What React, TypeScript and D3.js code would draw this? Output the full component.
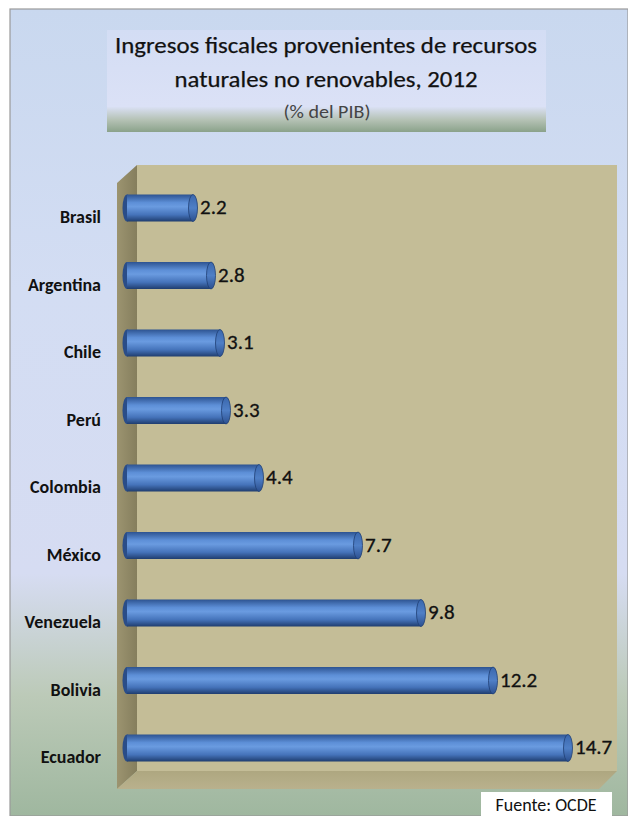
import React from "react";
import * as d3 from "d3";

const countries = ["Brasil", "Argentina", "Chile", "Perú", "Colombia", "México", "Venezuela", "Bolivia", "Ecuador"];
const values = [2.2, 2.8, 3.1, 3.3, 4.4, 7.7, 9.8, 12.2, 14.7];
const titleLines = ["Ingresos fiscales provenientes de recursos", "naturales no renovables, 2012"];
const titleWidths = [422, 303];
const subtitle = "(% del PIB)";
const source = "Fuente: OCDE";

const W = 628;
const H = 816;
const FONT = "Carlito, 'Liberation Sans Narrow', 'DejaVu Sans Condensed', sans-serif";

export default function App() {
  const x = d3.scaleLinear().domain([0, 15]).range([127, 577]);
  const y = d3.scalePoint<string>().domain(countries).range([208, 748]);
  const barH = 27;
  const capRx = 4.5;

  // 3D frame geometry
  const wallFrontX = 117;
  const wallBackX = 137;
  const topBack = 165;
  const topFront = 183;
  const floorBack = 771;
  const floorFront = 789;
  const rightBack = 617;
  const rightFront = 599;

  return (
    <div style={{ position: "absolute", left: 0, top: 0, width: W, height: H }}>
      <svg width={W} height={H} style={{ display: "block" }}>
        <defs>
          <linearGradient id="bg" x1="0" y1="0" x2="0" y2="1">
            <stop offset="0" stopColor="#c9d8ef" />
            <stop offset="0.35" stopColor="#d3ddf3" />
            <stop offset="0.7" stopColor="#d6dcf2" />
            <stop offset="0.85" stopColor="#bccab8" />
            <stop offset="1" stopColor="#9fb79f" />
          </linearGradient>
          <linearGradient id="titleBg" x1="0" y1="0" x2="0" y2="1">
            <stop offset="0" stopColor="#d3ddf4" />
            <stop offset="0.75" stopColor="#dbe1f6" />
            <stop offset="0.88" stopColor="#b5c2b5" />
            <stop offset="1" stopColor="#8aa28a" />
          </linearGradient>
          <linearGradient id="cyl" x1="0" y1="0" x2="0" y2="1">
            <stop offset="0" stopColor="#2d5391" />
            <stop offset="0.3" stopColor="#5d8fd7" />
            <stop offset="0.45" stopColor="#6a9be0" />
            <stop offset="0.75" stopColor="#4573ba" />
            <stop offset="1" stopColor="#1f3d6f" />
          </linearGradient>
          <linearGradient id="cap" x1="0" y1="0" x2="0" y2="1">
            <stop offset="0" stopColor="#3a67ad" />
            <stop offset="0.5" stopColor="#4f7fc6" />
            <stop offset="1" stopColor="#2c5090" />
          </linearGradient>
          <linearGradient id="leftWall" x1="0" y1="0" x2="1" y2="0">
            <stop offset="0" stopColor="#9c9470" />
            <stop offset="1" stopColor="#857e5d" />
          </linearGradient>
          <linearGradient id="floor" x1="0" y1="0" x2="0" y2="1">
            <stop offset="0" stopColor="#aea780" />
            <stop offset="1" stopColor="#b9b18d" />
          </linearGradient>
        </defs>

        {/* panel */}
        <rect x={10} y={9} width={W - 10} height={H - 9} fill="url(#bg)" stroke="#9a9a9a" strokeWidth={1.2} />

        {/* title box */}
        <rect x={107} y={30} width={439} height={102} fill="url(#titleBg)" />
        {titleLines.map((t, i) => (
          <text
            key={t}
            x={326}
            y={53 + i * 34}
            textAnchor="middle"
            fontFamily={FONT}
            fontSize={23}
            fill="#111"
            stroke="#111"
            strokeWidth={0.25}
            textLength={titleWidths[i]}
            lengthAdjust="spacingAndGlyphs"
          >
            {t}
          </text>
        ))}
        <text x={327} y={118} textAnchor="middle" fontFamily={FONT} fontSize={19} fill="#444" textLength={87} lengthAdjust="spacingAndGlyphs">
          {subtitle}
        </text>

        {/* back wall */}
        <rect x={wallBackX} y={topBack} width={rightBack - wallBackX} height={floorBack - topBack} fill="#c4bd97" />
        {/* left wall */}
        <polygon
          points={`${wallFrontX},${topFront} ${wallBackX},${topBack} ${wallBackX},${floorBack} ${wallFrontX},${floorFront}`}
          fill="url(#leftWall)"
        />
        {/* floor */}
        <polygon
          points={`${wallFrontX},${floorFront} ${wallBackX},${floorBack} ${rightBack},${floorBack} ${rightFront},${floorFront}`}
          fill="url(#floor)"
        />

        {/* bars */}
        {countries.map((c, i) => {
          const cy = y(c) as number;
          const x0 = x(0);
          const x1 = x(values[i]);
          return (
            <g key={c}>
              <ellipse cx={x0} cy={cy} rx={capRx} ry={barH / 2} fill="#2a4d88" />
              <rect x={x0} y={cy - barH / 2} width={x1 - x0} height={barH} fill="url(#cyl)" />
              <ellipse cx={x1} cy={cy} rx={capRx} ry={barH / 2} fill="url(#cap)" stroke="#203f73" strokeWidth={0.8} />
              <text x={x1 + 7} y={cy + 6} fontFamily={FONT} fontSize={21} fill="#111" stroke="#111" strokeWidth={0.3}>
                {values[i].toFixed(1)}
              </text>
              <text x={101} y={cy + 15} textAnchor="end" fontFamily={FONT} fontSize={18} fontWeight="bold" fill="#111">
                {c}
              </text>
            </g>
          );
        })}

        {/* source */}
        <rect x={481} y={792} width={131} height={24} fill="#ffffff" />
        <text x={546} y={811} textAnchor="middle" fontFamily={FONT} fontSize={18} fill="#111">
          {source}
        </text>
      </svg>
    </div>
  );
}
